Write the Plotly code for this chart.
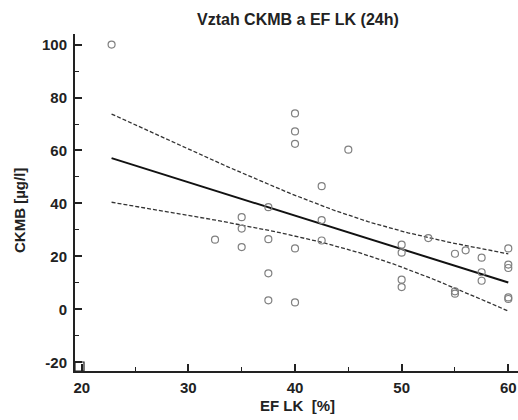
import numpy as np
import plotly.graph_objects as go

# Data (EF LK [%] vs CKMB [µg/l])
ef_lk = [22.8, 32.5, 35, 35, 35, 37.5, 37.5, 37.5, 37.5,
         40, 40, 40, 40, 40, 42.5, 42.5, 42.5, 45,
         50, 50, 50, 50, 52.5, 55, 55, 55, 56,
         57.5, 57.5, 57.5, 60, 60, 60, 60, 60]
ckmb = [100, 26.3, 34.8, 30.5, 23.5, 38.6, 26.5, 13.6, 3.4,
        74, 67.2, 62.5, 23.0, 2.6, 46.5, 33.7, 26.0, 60.3,
        24.4, 21.4, 11.2, 8.4, 26.9, 21.0, 6.8, 5.9, 22.3,
        19.5, 14.0, 10.8, 23.0, 16.9, 15.6, 4.5, 3.9]

x_ticks = [20, 30, 40, 50, 60]
y_ticks = [-20, 0, 20, 40, 60, 80, 100]

title = "Vztah CKMB a EF LK (24h)"
x_title = "EF LK  [%]"
y_title = "CKMB [µg/l]"

# Linear regression with 95% confidence band for the mean
x = np.array(ef_lk, dtype=float)
y = np.array(ckmb, dtype=float)
n = len(x)
mx, my = x.mean(), y.mean()
sxx = ((x - mx) ** 2).sum()
slope = ((x - mx) * (y - my)).sum() / sxx
icpt = my - slope * mx
res = y - (icpt + slope * x)
s = np.sqrt((res ** 2).sum() / (n - 2))
df = n - 2
z = 1.959964
tval = z + (z**3 + z) / (4 * df) + (5 * z**5 + 16 * z**3 + 3 * z) / (96 * df**2)
xf = np.linspace(x.min(), x.max(), 100)
yf = icpt + slope * xf
hw = tval * s * np.sqrt(1 / n + (xf - mx) ** 2 / sxx)

fig = go.Figure()
fig.add_trace(go.Scatter(x=xf, y=yf + hw, mode="lines",
                         line=dict(color="#333333", width=1.3, dash="4px,2px"),
                         hoverinfo="skip"))
fig.add_trace(go.Scatter(x=xf, y=yf - hw, mode="lines",
                         line=dict(color="#333333", width=1.3, dash="4px,2px"),
                         hoverinfo="skip"))
fig.add_trace(go.Scatter(x=xf, y=yf, mode="lines",
                         line=dict(color="#111111", width=2)))
fig.add_trace(go.Scatter(x=ef_lk, y=ckmb, mode="markers",
                         marker=dict(symbol="circle-open", size=7,
                                     color="#808080", line=dict(width=1.2))))

font = "Liberation Sans, Arial, sans-serif"
col = "#222222"
fig.update_layout(
    width=518, height=420,
    margin=dict(l=75, r=0, t=34, b=49),
    paper_bgcolor="white", plot_bgcolor="white",
    showlegend=False,
    font=dict(family=font, color=col),
)
fig.update_xaxes(
    range=[19.37, 60.91], tickvals=x_ticks,
    ticktext=["<b>%d</b>" % v for v in x_ticks],
    ticks="inside", ticklen=7, tickwidth=1.5, tickcolor=col,
    minor=dict(dtick=5, tick0=0, ticks="inside", ticklen=4, tickwidth=1.2, tickcolor=col),
    showline=True, linecolor=col, linewidth=2, showgrid=False, zeroline=False,
    tickfont=dict(size=15, family=font, color=col), ticklabelstandoff=2,
)
fig.update_yaxes(
    range=[-23.3, 104.0], tickvals=y_ticks,
    ticktext=["<b>%d</b>" % v for v in y_ticks],
    ticks="inside", ticklen=7, tickwidth=1.5, tickcolor=col,
    minor=dict(dtick=10, tick0=0, ticks="inside", ticklen=4, tickwidth=1.2, tickcolor=col),
    showline=True, linecolor=col, linewidth=2, showgrid=False, zeroline=False,
    tickfont=dict(size=15, family=font, color=col), ticklabelstandoff=3,
)
fig.add_annotation(text="<b>" + title + "</b>", xref="paper", yref="paper",
                   x=0.503, y=1.0445, xanchor="center", yanchor="middle", showarrow=False,
                   font=dict(size=16, family=font, color=col))
fig.add_annotation(text="<b>" + x_title + "</b>", xref="paper", yref="paper",
                   x=0.503, y=-0.101, xanchor="center", yanchor="middle", showarrow=False,
                   font=dict(size=15, family=font, color=col))
fig.add_annotation(text="<b>" + y_title + "</b>", xref="paper", yref="paper",
                   x=-0.124, y=0.475, xanchor="center", yanchor="middle", showarrow=False,
                   textangle=-90, font=dict(size=15, family=font, color=col))
fig.add_shape(type="rect", xref="paper", yref="paper", xsizemode="pixel", ysizemode="pixel",
              xanchor=0, yanchor=0, x0=0, x1=9, y0=0, y1=9,
              line=dict(color=col, width=1.2), fillcolor="rgba(0,0,0,0)")

fig.write_html("out.html", config={"displayModeBar": False},
               post_script="document.body.style.margin='0';document.body.style.overflow='hidden';")
